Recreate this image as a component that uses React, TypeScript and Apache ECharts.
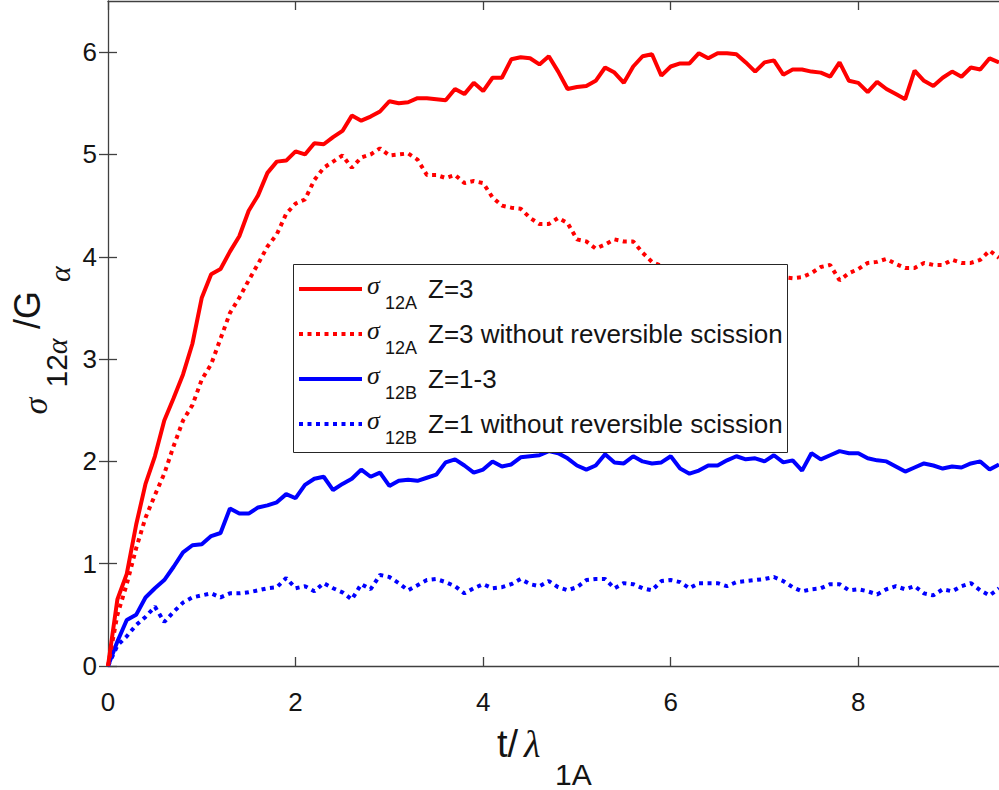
import React, { useEffect, useRef } from 'react';
import * as echarts from 'echarts';

// time axis t / lambda_1A
const T = [
  0, 0.1, 0.2, 0.3, 0.4, 0.5, 0.6, 0.7, 0.8, 0.9,
  1, 1.1, 1.2, 1.3, 1.4, 1.5, 1.6, 1.7, 1.8, 1.9,
  2, 2.1, 2.2, 2.3, 2.4, 2.5, 2.6, 2.7, 2.8, 2.9,
  3, 3.1, 3.2, 3.3, 3.4, 3.5, 3.6, 3.7, 3.8, 3.9,
  4, 4.1, 4.2, 4.3, 4.4, 4.5, 4.6, 4.7, 4.8, 4.9,
  5, 5.1, 5.2, 5.3, 5.4, 5.5, 5.6, 5.7, 5.8, 5.9,
  6, 6.1, 6.2, 6.3, 6.4, 6.5, 6.6, 6.7, 6.8, 6.9,
  7, 7.1, 7.2, 7.3, 7.4, 7.5, 7.6, 7.7, 7.8, 7.9,
  8, 8.1, 8.2, 8.3, 8.4, 8.5, 8.6, 8.7, 8.8, 8.9,
  9, 9.1, 9.2, 9.3, 9.4, 9.5,
];

// sigma_12A, Z=3
const redSolid = [
  0, 0.65, 0.9, 1.38, 1.78, 2.05, 2.4, 2.62, 2.85, 3.15,
  3.6, 3.83, 3.88, 4.05, 4.2, 4.45, 4.6, 4.82, 4.93, 4.94,
  5.03, 5.0, 5.11, 5.1, 5.17, 5.23, 5.38, 5.33, 5.37, 5.42,
  5.52, 5.5, 5.51, 5.55, 5.55, 5.54, 5.53, 5.64, 5.59, 5.7,
  5.62, 5.75, 5.75, 5.93, 5.95, 5.94, 5.88, 5.96, 5.81, 5.64,
  5.66, 5.67, 5.72, 5.85, 5.8, 5.7, 5.86, 5.96, 5.98, 5.77,
  5.86, 5.89, 5.89, 5.99, 5.94, 5.99, 5.99, 5.98, 5.9, 5.81,
  5.9, 5.92, 5.78, 5.83, 5.83, 5.81, 5.8, 5.76, 5.9, 5.72,
  5.7, 5.61, 5.71, 5.64, 5.59, 5.54, 5.82, 5.72, 5.67, 5.75,
  5.81, 5.76, 5.85, 5.83, 5.94, 5.9,
];

// sigma_12A, Z=3 without reversible scission
const redDotted = [
  0, 0.5, 0.8, 1.15, 1.45, 1.67, 1.88, 2.15, 2.4, 2.55,
  2.8, 2.95, 3.2, 3.45, 3.6, 3.77, 3.93, 4.1, 4.22, 4.42,
  4.52, 4.56, 4.75, 4.87, 4.93, 4.99, 4.87, 4.97, 5.0, 5.06,
  4.99, 5.0, 5.01, 4.95, 4.8, 4.8, 4.77, 4.8, 4.72, 4.74,
  4.72, 4.58, 4.5, 4.48, 4.47, 4.38, 4.32, 4.32, 4.38, 4.33,
  4.17, 4.15, 4.08, 4.12, 4.17, 4.15, 4.15, 4.04, 3.95, 3.91,
  3.88, 3.86, 3.9, 3.85, 3.82, 3.87, 3.84, 3.8, 3.86, 3.83,
  3.79, 3.84, 3.8, 3.79, 3.8, 3.84, 3.9, 3.92, 3.77, 3.84,
  3.88, 3.94, 3.95, 3.98, 3.93, 3.89, 3.89, 3.94, 3.92, 3.92,
  3.97, 3.94, 3.94, 3.97, 4.06, 3.99,
];

// sigma_12B, Z=1-3
const blueSolid = [
  0, 0.24, 0.45, 0.5, 0.67, 0.76, 0.84, 0.97, 1.11, 1.18,
  1.19, 1.27, 1.3, 1.54, 1.49, 1.49, 1.55, 1.57, 1.6, 1.68,
  1.64, 1.77, 1.83, 1.85, 1.72, 1.78, 1.83, 1.92, 1.85, 1.89,
  1.76, 1.81, 1.82, 1.81, 1.84, 1.87, 1.99, 2.02, 1.96, 1.89,
  1.92, 2.0, 1.95, 1.97, 2.04, 2.05, 2.06, 2.1, 2.08, 2.03,
  1.96, 1.92, 1.96, 2.07, 1.99, 1.98, 2.05, 2.0, 1.98, 1.99,
  2.05, 1.93, 1.88, 1.91, 1.96, 1.96, 2.01, 2.05, 2.02, 2.03,
  2.0, 2.06, 1.99, 2.01, 1.91, 2.08, 2.02, 2.06, 2.1, 2.08,
  2.08, 2.03, 2.01, 2.0, 1.95, 1.9, 1.94, 1.98, 1.96, 1.93,
  1.95, 1.94, 1.98, 2.0, 1.92, 1.97,
];

// sigma_12B, Z=1 without reversible scission
const blueDotted = [
  0, 0.2, 0.29, 0.4, 0.48, 0.58, 0.43, 0.53, 0.62, 0.67,
  0.69, 0.71, 0.67, 0.71, 0.71, 0.72, 0.74, 0.76, 0.77, 0.86,
  0.76, 0.78, 0.73, 0.81, 0.76, 0.72, 0.65, 0.8, 0.75, 0.89,
  0.87, 0.81, 0.74, 0.79, 0.84, 0.85, 0.82, 0.78, 0.71, 0.76,
  0.8, 0.76, 0.77, 0.8, 0.85, 0.8, 0.78, 0.83, 0.77, 0.74,
  0.77, 0.84, 0.85, 0.85, 0.76, 0.81, 0.8, 0.76, 0.74, 0.83,
  0.84, 0.82, 0.76, 0.81, 0.81, 0.81, 0.78, 0.82, 0.83, 0.84,
  0.85, 0.87, 0.83, 0.77, 0.73, 0.75, 0.76, 0.8, 0.8, 0.74,
  0.75, 0.73, 0.7, 0.75, 0.78, 0.75, 0.78, 0.71, 0.69, 0.75,
  0.73, 0.78, 0.81, 0.74, 0.69, 0.76,
];

const xTicks = [0, 2, 4, 6, 8];
const yTicks = [0, 1, 2, 3, 4, 5, 6];

const legendRows = [
  { sub: '12A', text: 'Z=3', color: '#ff0000', dotted: false },
  { sub: '12A', text: 'Z=3 without reversible scission', color: '#ff0000', dotted: true },
  { sub: '12B', text: 'Z=1-3', color: '#0000ff', dotted: false },
  { sub: '12B', text: 'Z=1 without reversible scission', color: '#0000ff', dotted: true },
];

const AX = '#404040';
const TXT = '#141414';
const SANS = '"Liberation Sans", Arial, sans-serif';
const SERIF = '"Liberation Serif", "Times New Roman", serif';
const DOT: number[] = [4, 4.5];
const LW = 4;
const ZTOP = 100;

function pairs(ys: number[]) {
  return T.map((t, i) => [t, ys[i]]);
}

export default function App() {
  const ref = useRef<HTMLDivElement>(null);
  useEffect(() => {
    if (!ref.current) return;
    const chart = echarts.init(ref.current, null, { renderer: 'svg' });

    const legendY = [289, 334, 379, 424];
    const legendEls: any[] = [
      {
        type: 'rect',
        z: ZTOP,
        shape: { x: 293.5, y: 264.5, width: 494, height: 188 },
        style: { fill: '#ffffff', stroke: '#262626', lineWidth: 1 },
      },
    ];
    legendRows.forEach((r, i) => {
      const y = legendY[i];
      legendEls.push({
        type: 'line',
        z: ZTOP + 1,
        shape: { x1: 299, y1: y, x2: 362, y2: y },
        style: {
          stroke: r.color,
          lineWidth: LW,
          lineDash: r.dotted ? DOT : null,
          lineCap: 'butt',
        },
      });
      legendEls.push({
        type: 'text',
        z: ZTOP + 1,
        x: 367,
        y: y - 4,
        style: {
          text: 'σ',
          fontSize: 26,
          fontFamily: SERIF,
          fontStyle: 'italic',
          fill: TXT,
          align: 'left',
          verticalAlign: 'middle',
        },
      });
      legendEls.push({
        type: 'text',
        z: ZTOP + 1,
        x: 385,
        y: y + 14,
        style: {
          text: r.sub,
          fontSize: 18,
          fontFamily: SANS,
          fill: TXT,
          align: 'left',
          verticalAlign: 'middle',
        },
      });
      legendEls.push({
        type: 'text',
        z: ZTOP + 1,
        x: 428,
        y: y - 0.5,
        style: {
          text: r.text,
          fontSize: 26,
          fontFamily: SANS,
          fill: TXT,
          align: 'left',
          verticalAlign: 'middle',
        },
      });
    });

    const rot = Math.PI / 2;
    const yTitle: any[] = [
      {
        type: 'text', z: ZTOP, x: 35, y: 406, rotation: rot,
        style: { text: 'σ', fontSize: 34, fontFamily: SERIF, fontStyle: 'italic', fill: TXT, align: 'center', verticalAlign: 'middle' },
      },
      {
        type: 'text', z: ZTOP, x: 56, y: 363, rotation: rot,
        style: {
          text: '{n|12}{g|α}', fill: TXT, align: 'center', verticalAlign: 'middle',
          rich: {
            n: { fontSize: 30, fontFamily: SANS, fill: TXT },
            g: { fontSize: 30, fontFamily: SERIF, fontStyle: 'italic', fill: TXT },
          },
        },
      },
      {
        type: 'text', z: ZTOP, x: 27, y: 310, rotation: rot,
        style: { text: '/G', fontSize: 36, fontFamily: SANS, fill: TXT, align: 'center', verticalAlign: 'middle' },
      },
      {
        type: 'text', z: ZTOP, x: 59, y: 274, rotation: rot,
        style: { text: 'α', fontSize: 30, fontFamily: SERIF, fontStyle: 'italic', fill: TXT, align: 'center', verticalAlign: 'middle' },
      },
    ];

    const xTitle: any[] = [
      {
        type: 'text', z: ZTOP, x: 497, y: 744,
        style: { text: 't/', fontSize: 38, fontFamily: SANS, fill: TXT, align: 'left', verticalAlign: 'middle' },
      },
      {
        type: 'text', z: ZTOP, x: 524, y: 744,
        style: { text: 'λ', fontSize: 38, fontFamily: SERIF, fontStyle: 'italic', fill: TXT, align: 'left', verticalAlign: 'middle' },
      },
      {
        type: 'text', z: ZTOP, x: 555, y: 774,
        style: { text: '1A', fontSize: 30, fontFamily: SANS, fill: TXT, align: 'left', verticalAlign: 'middle' },
      },
    ];

    const baseX = {
      type: 'value' as const,
      min: 0,
      max: 9.5,
      splitLine: { show: false },
      axisLine: { show: true, onZero: false, lineStyle: { color: AX, width: 1.3 } },
      axisTick: { show: true, inside: true, length: 9, customValues: xTicks, lineStyle: { color: AX, width: 1.3 } },
    };
    const baseY = {
      type: 'value' as const,
      min: 0,
      max: 6.5,
      splitLine: { show: false },
      axisLine: { show: true, onZero: false, lineStyle: { color: AX, width: 1.3 } },
      axisTick: { show: true, inside: true, length: 9, customValues: yTicks, lineStyle: { color: AX, width: 1.3 } },
    };

    const option: any = {
      animation: false,
      backgroundColor: '#ffffff',
      grid: { left: 108, right: 0, top: 1, bottom: 124, containLabel: false },
      xAxis: [
        {
          ...baseX,
          position: 'bottom',
          axisLabel: { customValues: xTicks, fontSize: 26, color: TXT, fontFamily: SANS, margin: 23 },
        },
        { ...baseX, position: 'top', axisLabel: { show: false } },
      ],
      yAxis: [
        {
          ...baseY,
          position: 'left',
          axisLabel: { customValues: yTicks, fontSize: 26, color: TXT, fontFamily: SANS, margin: 11 },
        },
        { ...baseY, position: 'right', axisLine: { show: false }, axisLabel: { show: false } },
      ],
      series: [
        {
          name: 'σ12B Z=1 without reversible scission', type: 'line', data: pairs(blueDotted), showSymbol: false, symbol: 'none', z: 2,
          lineStyle: { color: '#0000ff', width: LW, type: DOT, cap: 'butt' }, itemStyle: { color: '#0000ff' },
        },
        {
          name: 'σ12B Z=1-3', type: 'line', data: pairs(blueSolid), showSymbol: false, symbol: 'none', z: 2,
          lineStyle: { color: '#0000ff', width: LW, type: 'solid' }, itemStyle: { color: '#0000ff' },
        },
        {
          name: 'σ12A Z=3 without reversible scission', type: 'line', data: pairs(redDotted), showSymbol: false, symbol: 'none', z: 2,
          lineStyle: { color: '#ff0000', width: LW, type: DOT, cap: 'butt' }, itemStyle: { color: '#ff0000' },
        },
        {
          name: 'σ12A Z=3', type: 'line', data: pairs(redSolid), showSymbol: false, symbol: 'none', z: 2,
          lineStyle: { color: '#ff0000', width: LW, type: 'solid' }, itemStyle: { color: '#ff0000' },
        },
      ],
      graphic: {
        elements: [
          { type: 'group', z: ZTOP, children: legendEls },
          { type: 'group', z: ZTOP, children: yTitle },
          { type: 'group', z: ZTOP, children: xTitle },
        ],
      },
    };

    chart.setOption(option);
    return () => chart.dispose();
  }, []);

  return (
    <div
      ref={ref}
      style={{ position: 'absolute', left: 0, top: 0, width: 999, height: 790, background: '#ffffff' }}
    />
  );
}
